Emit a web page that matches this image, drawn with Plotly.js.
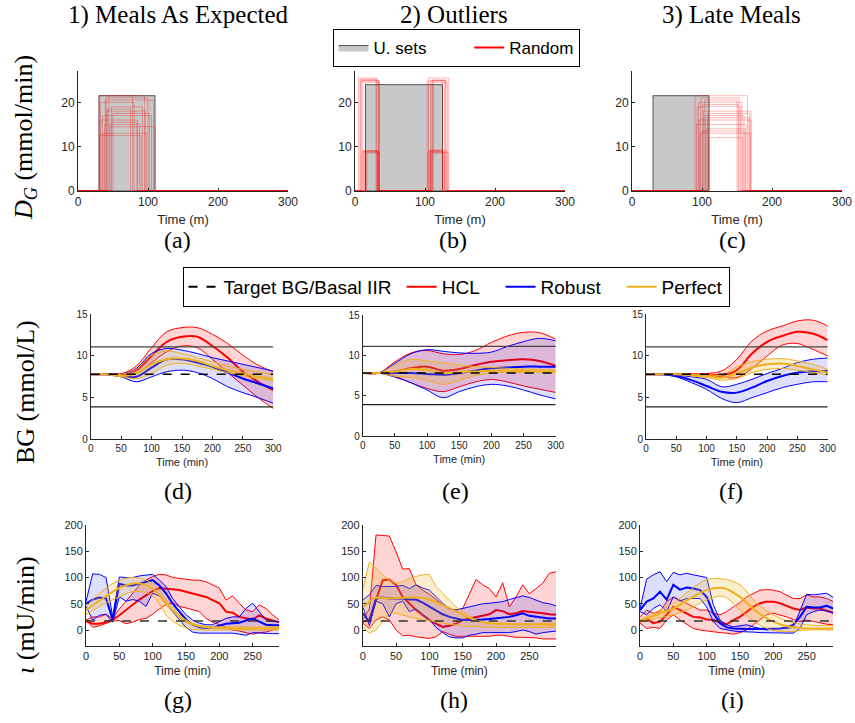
<!DOCTYPE html>
<html><head><meta charset="utf-8">
<script src="https://cdn.plot.ly/plotly-3.0.1.min.js"></script>
<style>body{margin:0;background:#fff}#chart{width:855px;height:723px}</style>
</head><body><div id="chart"></div>
<script>
// ---------- DATA ----------
const colTitles = ["1) Meals As Expected", "2) Outliers", "3) Late Meals"];
const subLabels = ["(a)","(b)","(c)","(d)","(e)","(f)","(g)","(h)","(i)"];

// Uncertainty sets (meal start, end, rate) for panels a,b,c
const usetStart = [30, 15, 30];
const usetEnd = [110, 125, 110];
const usetHeight = [21.5, 24, 21.5];

// Random meal samples, panel (a)
const randAStart = [30,32,35,38,40,42,45,48,33,36,44,50,31,39,47,41];
const randAEnd   = [95,80,105,88,100,75,110,92,85,98,78,102,90,108,84,96];
const randAHeight= [21.5,20,17,15,21,18.5,14.5,19,16,13,21.5,17.5,12.5,20.5,15.5,18];
// Random samples, panel (b): two short meals each
const randB1Start = [8,12,15,10,5,14,11,17,9,13,7,16];
const randB1End   = [33,32,34,35,31,33,34,32,35,33,30,34];
const randB1Height= [25,9,24.5,8.8,25.5,9,25,8.5,24.8,9,25.2,8.7];
const randB2Start = [107,110,104,112,108,105,109,111,106,103,110,108];
const randB2End   = [125,130,128,132,126,134,127,129,131,125,133,128];
const randB2Height= [9,25,8.8,24.5,9,25.5,8.5,25,9.2,24.8,8.7,25];
// Random samples, panel (c)
const randCStart = [90,93,96,100,104,108,110,92,98,102,106,95,109,101,97,105];
const randCEnd   = [165,155,170,160,150,168,158,163,153,170,162,157,167,152,169,160];
const randCHeight= [21.5,19,16,13.5,20.5,17.5,12,15,21,18,14,20,16.5,19.5,13,17];

// BG (mmol/L)
const T_BG = [0,25,50,75,100,125,150,175,200,225,250,275,300];
const bgLow = 3.9, bgHigh = 11.1, bgTarget = 7.8;
const d_hcl_up  = [7.8,7.8,7.85,8.8,11.0,12.9,13.4,13.4,12.6,11.5,10.1,8.9,8.1];
const d_hcl_mid = [7.8,7.8,7.8,8.3,10.0,11.7,12.3,12.3,11.2,9.8,8.1,6.9,5.9];
const d_hcl_lo  = [7.8,7.8,7.8,7.9,9.2,10.5,11.2,11.0,9.6,8.0,6.5,5.0,3.7];
const d_rob_up  = [7.8,7.8,7.8,8.5,10.3,10.9,10.7,10.3,9.8,9.4,9.0,8.6,8.2];
const d_rob_mid = [7.8,7.8,7.6,7.5,8.6,9.6,9.6,9.2,8.7,8.0,7.3,6.7,6.1];
const d_rob_lo  = [7.8,7.8,7.5,6.9,7.5,8.1,8.3,8.0,7.3,6.3,5.6,5.0,4.3];
const d_per_up  = [7.8,7.8,7.8,8.4,10.1,10.6,10.3,9.8,9.3,8.8,8.4,8.1,7.8];
const d_per_mid = [7.8,7.8,7.6,7.9,9.0,9.6,9.7,9.4,8.8,8.3,7.9,7.5,7.2];
const d_per_lo  = [7.8,7.8,7.5,7.3,7.9,8.9,9.1,8.8,8.4,8.0,7.6,7.3,7.0];

const e_hcl_up  = [7.8,7.8,9.2,10.3,10.6,10.2,10.1,10.6,11.6,12.4,12.85,12.8,12.0];
const e_hcl_mid = [7.8,7.8,8.0,8.4,8.6,8.1,8.3,8.8,9.2,9.4,9.5,9.3,8.7];
const e_hcl_lo  = [7.8,7.8,7.4,6.6,5.9,5.5,6.1,6.7,7.0,6.7,6.2,5.8,5.4];
const e_rob_up  = [7.8,7.8,9.0,10.2,10.7,10.5,10.3,10.25,10.4,11.1,11.7,12.1,11.8];
const e_rob_mid = [7.8,7.8,7.8,7.8,7.7,7.6,7.8,8.1,8.4,8.5,8.6,8.6,8.6];
const e_rob_lo  = [7.8,7.8,7.3,6.6,5.7,4.75,5.5,6.1,6.4,6.2,5.7,5.1,4.6];
const e_per_up  = [7.8,7.8,8.8,9.5,9.3,9.1,8.8,8.6,8.5,8.4,8.3,8.25,8.2];
const e_per_mid = [7.8,7.8,8.0,8.3,8.2,7.8,7.9,8.0,8.1,8.1,8.05,8.0,8.0];
const e_per_lo  = [7.8,7.8,7.4,7.3,6.9,6.4,6.9,7.5,7.8,7.9,7.9,7.9,7.9];

const f_hcl_up  = [7.8,7.8,7.8,7.8,7.9,8.2,9.6,11.8,13.0,13.6,14.2,14.3,13.6];
const f_hcl_mid = [7.8,7.8,7.8,7.8,7.8,7.7,8.3,10.3,11.7,12.4,12.9,12.7,11.9];
const f_hcl_lo  = [7.8,7.8,7.8,7.8,7.7,7.5,7.4,8.5,10.0,11.3,11.5,10.8,10.0];
const f_rob_up  = [7.8,7.8,7.7,7.5,7.2,6.3,6.6,7.2,7.9,8.5,9.2,9.6,9.75];
const f_rob_mid = [7.8,7.8,7.6,7.1,6.4,5.7,5.6,6.2,7.0,7.6,8.0,8.15,8.2];
const f_rob_lo  = [7.8,7.8,7.5,6.8,6.0,4.9,4.4,5.0,5.6,6.2,6.6,6.9,6.9];
const f_per_up  = [7.8,7.8,7.8,7.8,7.8,7.7,8.7,9.3,9.6,9.68,9.4,9.0,8.4];
const f_per_mid = [7.8,7.8,7.8,7.7,7.6,7.4,7.9,8.6,9.0,9.1,8.8,8.4,8.0];
const f_per_lo  = [7.8,7.8,7.8,7.6,7.4,7.1,7.3,8.0,8.4,8.5,8.3,8.0,7.7];

// Insulin (mU/min)
const T_IN = [0,10,20,30,40,50,60,70,80,90,100,110,120,130,140,150,160,170,180,190,200,210,220,230,240,250,260,270,280,290];
const T_SM = [0,25,50,75,100,125,150,175,200,225,250,290];
const basalIIR = 17;
const g_hcl_up  = [19,25,25,30,22,40,55,70,85,95,102,106,105,100,98,96,95,95,92,86,80,57,65,51,38,35,48,41,29,19];
const g_hcl_mid = [17,12,12,15,20,28,38,48,58,66,74,80,79,78,76,73,70,67,63,57,51,35,33,25,22,20,28,22,18,15];
const g_hcl_lo  = [19,5,8,12,17,18,12,15,20,22,30,40,48,52,45,42,38,35,22,15,10,5,0,-2,-5,-8,-5,-4,0,5];
const g_rob_up  = [54,107,106,100,25,101,100,100,103,104,106,95,83,60,44,29,19,13,10,10,16,22,25,25,41,51,35,19,16,16];
const g_rob_mid = [50,58,62,60,20,88,85,85,88,92,95,85,70,50,35,20,10,5,4,5,8,12,13,14,18,22,16,10,9,9];
const g_rob_lo  = [45,19,28,30,15,63,55,58,55,45,70,65,50,35,18,5,-4,-6,-6,-6,-6,-6,-6,-8,-10,-5,-6,-7,-7,-7];
const g_per_up  = [45,75,95,100,88,50,19,8,6,6,6,6];
const g_per_mid = [38,60,80,89,79,44,16,6,4,3,3,3];
const g_per_lo  = [29,48,63,74,65,22,4,0,0,0,0,0];

const h_hcl_up  = [20,40,181,180,179,149,116,117,86,76,68,58,48,40,38,41,70,96,86,79,63,90,44,63,86,69,79,89,108,111];
const h_hcl_mid = [15,20,57,95,96,86,63,50,38,28,19,12,6,8,12,19,22,25,28,30,38,36,30,32,36,35,33,32,30,29];
const h_hcl_lo  = [13,3,19,25,19,0,-11,-10,-13,-14,-16,-13,-3,-8,-12,-12,-12,-12,-12,-12,-10,-10,-12,-14,-14,-14,-15,-17,-17,-17];
const h_rob_up  = [57,67,85,83,83,83,85,79,86,80,76,63,51,41,38,41,44,48,50,51,52,54,58,62,65,62,57,52,50,46];
const h_rob_mid = [32,15,60,62,60,60,60,58,58,52,45,38,30,25,22,19,19,19,20,21,22,23,25,28,32,27,25,24,22,22];
const h_rob_lo  = [45,8,55,50,25,50,55,35,40,30,20,5,-5,-13,-15,-15,-10,-8,-5,-5,-5,-5,-5,-3,0,-3,-8,-5,-3,-2];
const h_per_up  = [76,130,117,105,95,89,92,98,102,105,106,83,70,57,44,35,27,19,15,12,11,11,11,12,12,12,12,13,13,13];
const h_per_mid = [43,54,62,61,60,61,62,62,62,61,58,53,48,42,35,29,23,18,15,13,13,12,12,11,11,11,10,10,10,10];
const h_per_lo  = [6,-6,0,16,33,32,28,25,22,19,18,15,13,11,9,8,7,6,5,5,5,5,5,5,5,5,5,5,5,5];

const i_hcl_up  = [25,38,32,35,54,63,57,51,44,38,38,32,29,35,44,52,63,70,76,77,76,73,67,60,60,67,63,63,60,54];
const i_hcl_mid = [16,22,13,16,29,44,38,32,25,24,20,19,14,11,19,25,35,44,51,54,54,51,46,41,38,43,41,41,37,33];
const i_hcl_lo  = [13,3,5,3,19,29,19,11,3,0,-2,-3,-5,-6,-8,-5,0,10,19,29,32,29,25,20,16,19,16,14,11,10];
const i_rob_up  = [41,97,105,111,92,110,105,108,105,102,100,48,19,10,6,8,10,6,3,0,2,2,3,5,38,68,67,68,70,62];
const i_rob_mid = [38,54,60,73,58,86,77,81,79,76,63,32,13,5,3,2,2,2,2,2,3,3,5,10,25,44,43,43,46,41];
const i_rob_lo  = [35,29,41,48,35,63,55,60,60,60,44,16,3,0,-2,-3,-3,-4,-5,-5,-6,-6,-6,-6,3,29,35,38,36,32];
const i_per_up  = [19,35,51,76,96,97,86,51,29,16,10,8];
const i_per_mid = [17,29,41,60,76,80,63,35,16,6,3,3];
const i_per_lo  = [15,22,29,41,57,64,38,13,-1,-3,0,0];

// ---------- STYLE ----------
const W = 855, H = 723;
const RED = '#FF0000', BLUE = '#0000FF', ORANGE = '#EDB120';
const FILL = {red:'rgba(255,0,0,0.17)', blue:'rgba(0,0,255,0.13)', orange:'rgba(237,177,32,0.22)'};
const SANS = 'Liberation Sans, Arial, sans-serif';
const SERIF = 'Liberation Serif, Times New Roman, serif';
const AX = '#262626';
const NB = '\u00a0';

const traces = [];
const layout = {
  width: W, height: H, margin:{l:0,r:0,t:0,b:0},
  paper_bgcolor:'#fff', plot_bgcolor:'rgba(0,0,0,0)',
  showlegend:true, annotations:[]
};

function px(x){return x/W;}
function py(y){return 1 - y/H;}

// subplot geometry in pixels: [x0,x1,yTop,yBottom]
const geo = [
  [78,288,71.4,190.7],[355,565,71.4,190.7],[632,842,71.4,190.7],
  [90.7,273.3,314.3,439.3],[362.7,555.7,315,436],[646,827.7,314.3,439.3],
  [86,279.3,525,645.75],[362.7,556,525,645.75],[640,833.3,525,645.75]
];
geo.forEach((g,i)=>{
  const k = i===0 ? '' : String(i+1);
  const row = Math.floor(i/3);
  let xr, xt, yr, yt, tfs, afs, xtitle, standoff;
  if(row===0){ xr=[0,300]; xt=[0,100,200,300]; yr=[0,27]; yt=[0,10,20]; tfs=12; afs=13; xtitle='Time (m)'; standoff=6; }
  else if(row===1){ xr=[0,300]; xt=[0,50,100,150,200,250,300]; yr=[0,15]; yt=[0,5,10,15]; tfs=10; afs=11; xtitle='Time (min)'; standoff=5; }
  else { xr=[0,290]; xt=[0,50,100,150,200,250]; yr=[-30,200]; yt=[0,50,100,150,200]; tfs=11; afs=12; xtitle='Time (min)'; standoff=5; }
  const common = {showline:true, linecolor:AX, linewidth:1, ticks:'inside', ticklen:3, tickcolor:AX,
    showgrid:false, zeroline:false, tickfont:{family:SANS,size:tfs,color:AX}, fixedrange:true};
  layout['xaxis'+k] = Object.assign({}, common, {domain:[px(g[0]),px(g[1])], range:xr, tickvals:xt,
    anchor:'y'+k, title:{text:xtitle, font:{family:SANS,size:afs,color:AX}, standoff:standoff}});
  layout['yaxis'+k] = Object.assign({}, common, {domain:[py(g[3]),py(g[2])], range:yr, tickvals:yt,
    anchor:'x'+k});
});

function axn(i){ return i===0 ? ['x','y'] : ['x'+(i+1),'y'+(i+1)]; }

// ---------- TOP ROW ----------
for(let p=0;p<3;p++){
  const [xa,ya] = axn(p);
  const s=usetStart[p], e=usetEnd[p], h=usetHeight[p];
  traces.push({x:[s,s,e,e,s], y:[0,h,h,0,0], xaxis:xa, yaxis:ya, mode:'lines', fill:'toself',
    fillcolor:'#C8C8C8', line:{color:'#555555', width:1}, name:'U. sets'+NB.repeat(8),
    showlegend:p===0, legend:'legend', legendrank:1, hoverinfo:'skip'});
}
const RCOL = 'rgba(255,0,0,0.28)';
function stepTrace(xa,ya,xs,ys){
  traces.push({x:xs, y:ys, xaxis:xa, yaxis:ya, mode:'lines', line:{color:RCOL,width:1},
    showlegend:false, hoverinfo:'skip'});
}
randAStart.forEach((s,j)=>{ const e=randAEnd[j], h=randAHeight[j];
  stepTrace('x','y',[0,s,s,e,e,300],[0,0,h,h,0,0]); });
randB1Start.forEach((s,j)=>{ const e=randB1End[j], h=randB1Height[j];
  const s2=randB2Start[j], e2=randB2End[j], h2=randB2Height[j];
  stepTrace('x2','y2',[0,s,s,e,e,s2,s2,e2,e2,300],[0,0,h,h,0,0,h2,h2,0,0]); });
randCStart.forEach((s,j)=>{ const e=randCEnd[j], h=randCHeight[j];
  stepTrace('x3','y3',[0,s,s,e,e,300],[0,0,h,h,0,0]); });
traces.push({x:[null], y:[null], mode:'lines', line:{color:RED,width:2}, name:'Random', legend:'legend', legendrank:2, xaxis:'x', yaxis:'y'});

// ---------- BANDS ----------
function band(p, t, lo, up, mid, col, fcol, shape){
  const [xa,ya] = axn(p);
  const ln = shape==='spline' ? {shape:'spline', smoothing:1} : {shape:'linear'};
  traces.push({x:t, y:lo, xaxis:xa, yaxis:ya, mode:'lines', line:Object.assign({color:col,width:1},ln), showlegend:false, hoverinfo:'skip'});
  traces.push({x:t, y:up, xaxis:xa, yaxis:ya, mode:'lines', fill:'tonexty', fillcolor:fcol, line:Object.assign({color:col,width:1},ln), showlegend:false, hoverinfo:'skip'});
  traces.push({x:t, y:mid, xaxis:xa, yaxis:ya, mode:'lines', line:Object.assign({color:col,width:2},ln), showlegend:false, hoverinfo:'skip'});
}
function refLines(p, xmax, isBG){
  const [xa,ya] = axn(p);
  if(isBG){
    traces.push({x:[0,xmax], y:[bgHigh,bgHigh], xaxis:xa, yaxis:ya, mode:'lines', line:{color:'#444',width:1.2}, showlegend:false, hoverinfo:'skip'});
    traces.push({x:[0,xmax], y:[bgLow,bgLow], xaxis:xa, yaxis:ya, mode:'lines', line:{color:'#222',width:1.2}, showlegend:false, hoverinfo:'skip'});
    traces.push({x:[0,xmax], y:[bgTarget,bgTarget], xaxis:xa, yaxis:ya, mode:'lines', line:{color:'#000',width:1.5,dash:'dash'}, showlegend:false, hoverinfo:'skip'});
  } else {
    traces.push({x:[0,xmax], y:[basalIIR,basalIIR], xaxis:xa, yaxis:ya, mode:'lines', line:{color:'#333',width:1.5,dash:'dash'}, showlegend:false, hoverinfo:'skip'});
  }
}
// middle row
band(3,T_BG,d_hcl_lo,d_hcl_up,d_hcl_mid,RED,FILL.red,'spline');
band(3,T_BG,d_rob_lo,d_rob_up,d_rob_mid,BLUE,FILL.blue,'spline');
band(3,T_BG,d_per_lo,d_per_up,d_per_mid,ORANGE,FILL.orange,'spline');
refLines(3,300,true);
band(4,T_BG,e_hcl_lo,e_hcl_up,e_hcl_mid,RED,FILL.red,'spline');
band(4,T_BG,e_rob_lo,e_rob_up,e_rob_mid,BLUE,FILL.blue,'spline');
band(4,T_BG,e_per_lo,e_per_up,e_per_mid,ORANGE,FILL.orange,'spline');
refLines(4,300,true);
band(5,T_BG,f_hcl_lo,f_hcl_up,f_hcl_mid,RED,FILL.red,'spline');
band(5,T_BG,f_rob_lo,f_rob_up,f_rob_mid,BLUE,FILL.blue,'spline');
band(5,T_BG,f_per_lo,f_per_up,f_per_mid,ORANGE,FILL.orange,'spline');
refLines(5,300,true);
// bottom row
band(6,T_IN,g_hcl_lo,g_hcl_up,g_hcl_mid,RED,FILL.red,'linear');
band(6,T_IN,g_rob_lo,g_rob_up,g_rob_mid,BLUE,FILL.blue,'linear');
band(6,T_SM,g_per_lo,g_per_up,g_per_mid,ORANGE,FILL.orange,'spline');
refLines(6,290,false);
band(7,T_IN,h_hcl_lo,h_hcl_up,h_hcl_mid,RED,FILL.red,'linear');
band(7,T_IN,h_rob_lo,h_rob_up,h_rob_mid,BLUE,FILL.blue,'linear');
band(7,T_IN,h_per_lo,h_per_up,h_per_mid,ORANGE,FILL.orange,'linear');
refLines(7,290,false);
band(8,T_IN,i_hcl_lo,i_hcl_up,i_hcl_mid,RED,FILL.red,'linear');
band(8,T_IN,i_rob_lo,i_rob_up,i_rob_mid,BLUE,FILL.blue,'linear');
band(8,T_SM,i_per_lo,i_per_up,i_per_mid,ORANGE,FILL.orange,'spline');
refLines(8,290,false);

// legend 2 entries
const leg2 = [['Target BG/Basal IIR'+NB,'#000','dash'],['HCL'+NB.repeat(3),RED,'solid'],['Robust'+NB.repeat(3),BLUE,'solid'],['Perfect',ORANGE,'solid']];
leg2.forEach((l,j)=>traces.push({x:[null],y:[null],xaxis:'x4',yaxis:'y4',mode:'lines',name:l[0],
  line:{color:l[1],width:2,dash:l[2]},legend:'legend2',legendrank:j+1}));

layout.legend = {orientation:'h', x:px(456), xanchor:'center', y:py(29), yanchor:'top', traceorder:'normal',
  bordercolor:'#000', borderwidth:1, bgcolor:'#fff', font:{family:SANS,size:17,color:'#000'},
  tracegroupgap:0, itemwidth:30};
layout.legend2 = {orientation:'h', x:px(456), xanchor:'center', y:py(267), yanchor:'top', traceorder:'normal',
  bordercolor:'#000', borderwidth:1, bgcolor:'#fff', font:{family:SANS,size:19,color:'#000'},
  itemwidth:30};

// ---------- ANNOTATIONS ----------
const colX = [178, 454, 731];
colTitles.forEach((t,i)=>layout.annotations.push({text:t, x:px(colX[i]), y:py(15), xref:'paper', yref:'paper',
  showarrow:false, xanchor:'center', yanchor:'middle', font:{family:SERIF,size:25,color:'#000'}}));
const labX = [177,453,732,178,455,731,178,454,732];
const labY = [240,240,240,491,491,491,700,700,700];
subLabels.forEach((t,i)=>layout.annotations.push({text:t, x:px(labX[i]), y:py(labY[i]), xref:'paper', yref:'paper',
  showarrow:false, xanchor:'center', yanchor:'middle', font:{family:SERIF,size:24,color:'#000'}}));
const yTitles = [['<i>D</i><sub><i>G</i></sub> (mmol/min)',138],['BG (mmol/L)',392],['<i>ι</i> (mU/min)',615]];
yTitles.forEach(yt=>layout.annotations.push({text:yt[0], x:px(25), y:py(yt[1]), xref:'paper', yref:'paper',
  showarrow:false, textangle:-90, xanchor:'center', yanchor:'middle', font:{family:SERIF,size:26,color:'#000'}}));

Plotly.newPlot('chart', traces, layout, {staticPlot:true, displayModeBar:false});
</script></body></html>
